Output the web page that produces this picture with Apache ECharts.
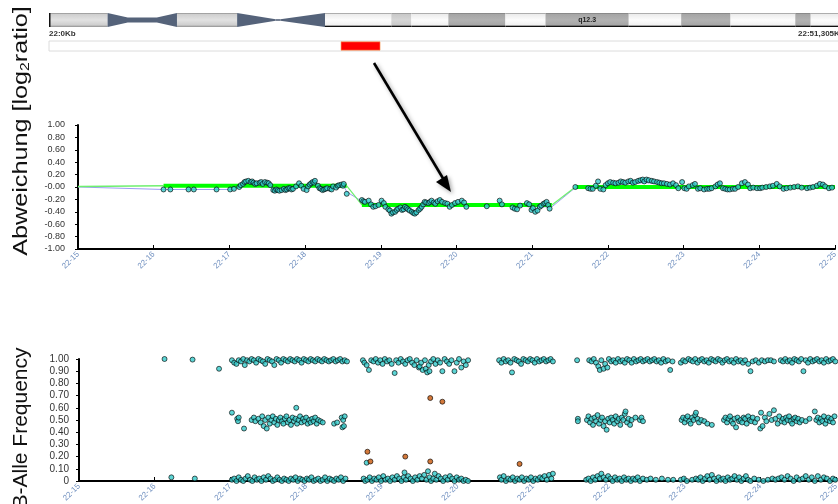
<!DOCTYPE html>
<html><head><meta charset="utf-8">
<script src="https://cdn.jsdelivr.net/npm/echarts@6/dist/echarts.min.js"></script>
<style>html,body{margin:0;padding:0;background:#fff}#c{width:838px;height:504px}</style>
</head><body><div id="c"></div><script>
// ---------- data ----------
const FONT = 'Liberation Sans';
// ideogram bands of chromosome 22: [start Mb, end Mb, name, stain]
const ideoBands = [
  [0,3.8,'p13','gvar'],[3.8,8.3,'p12','stalk'],[8.3,12.2,'p11.2','gvar'],
  [12.2,14.7,'p11.1','acenL'],[14.7,15.0,'','thin'],[15.0,17.9,'q11.1','acenR'],
  [17.9,22.2,'q11.21','gneg'],[22.2,23.5,'q11.22','gpos25'],[23.5,25.9,'q11.23','gneg'],
  [25.9,29.6,'q12.1','gpos50'],[29.6,32.2,'q12.2','gneg'],[32.2,37.6,'q12.3','gpos50'],
  [37.6,41.0,'q13.1','gneg'],[41.0,44.2,'q13.2','gpos50'],[44.2,48.4,'q13.31','gneg'],
  [48.4,49.4,'q13.32','gpos50'],[49.4,51.3,'q13.33','gneg']
];
const ideoLabels = ['q12.3'];
const ideoStartLabel = '22:0Kb';
const ideoEndLabel = '22:51,305Kb';
const highlightRegion = [[18.94, 21.47]];

const xTickLabels = ['22-15','22-16','22-17','22-18','22-19','22-20','22-21','22-22','22-23','22-24','22-25'];
const xTickStart = 15;
const lrTickLabels = ['-1.00','-0.80','-0.60','-0.40','-0.20','-0.00','0.20','0.40','0.60','0.80','1.00'];
const bafTickLabels = ['0','0.10','0.20','0.30','0.40','0.50','0.60','0.70','0.80','0.90','1.00'];
const lrTitle = '{a|Abweichung [log}{s|2}{a|ratio]}';
const bafTitle = 'B-Alle Frequency';

// log2 ratio probes [Mb, log2ratio]
const lrPoints = [
[16.13,-0.04],[16.22,-0.04],[16.46,-0.04],[16.53,-0.04],[16.83,-0.04],[17.01,-0.04],[17.06,-0.03],
[17.13,0.00],[17.15,0.03],[17.18,0.05],[17.20,0.08],[17.22,0.09],[17.25,0.10],[17.28,0.08],[17.30,0.09],[17.32,0.07],[17.34,0.05],[17.36,0.06],[17.40,0.07],[17.42,0.08],[17.44,0.05],[17.47,0.08],[17.50,0.07],[17.52,0.06],[17.54,0.03],[17.58,-0.05],[17.60,-0.06],[17.62,-0.04],[17.64,-0.05],[17.66,-0.06],[17.69,-0.05],[17.72,-0.03],[17.74,-0.05],[17.76,-0.04],[17.78,-0.02],[17.80,-0.02],[17.82,-0.04],[17.84,-0.03],[17.88,0.01],[17.92,0.06],[17.95,0.02],[17.98,-0.03],[18.02,-0.05],[18.04,0.01],[18.06,0.04],[18.08,0.06],[18.10,0.08],[18.12,0.07],[18.13,0.10],[18.17,0.02],[18.19,-0.02],[18.21,-0.03],[18.23,-0.05],[18.25,-0.04],[18.27,-0.03],[18.29,-0.02],[18.33,-0.03],[18.35,-0.04],[18.37,0.01],[18.41,-0.01],[18.43,0.02],[18.45,0.03],[18.48,0.04],[18.50,0.02],[18.51,0.05],[18.55,-0.11],
[18.75,-0.21],[18.77,-0.23],[18.79,-0.24],[18.84,-0.22],[18.87,-0.28],[18.90,-0.32],[18.93,-0.31],[18.97,-0.29],[19.01,-0.22],[19.04,-0.26],[19.06,-0.32],[19.10,-0.36],[19.12,-0.38],[19.14,-0.43],[19.16,-0.41],[19.19,-0.40],[19.21,-0.37],[19.23,-0.35],[19.26,-0.33],[19.28,-0.37],[19.30,-0.36],[19.32,-0.32],[19.34,-0.34],[19.36,-0.36],[19.38,-0.38],[19.41,-0.40],[19.43,-0.42],[19.45,-0.43],[19.47,-0.41],[19.50,-0.37],[19.52,-0.35],[19.54,-0.32],[19.56,-0.28],[19.58,-0.24],[19.60,-0.25],[19.63,-0.26],[19.65,-0.24],[19.67,-0.22],[19.70,-0.25],[19.72,-0.27],[19.75,-0.23],[19.78,-0.21],[19.81,-0.24],[19.85,-0.26],[19.88,-0.27],[19.91,-0.32],[19.94,-0.29],[19.98,-0.26],[20.02,-0.24],[20.07,-0.22],[20.10,-0.25],[20.13,-0.32],[20.40,-0.31],[20.57,-0.22],[20.60,-0.28],[20.74,-0.33],[20.77,-0.35],[20.80,-0.36],[20.84,-0.30],[20.93,-0.26],[20.96,-0.28],[20.99,-0.37],[21.01,-0.34],[21.04,-0.40],[21.07,-0.38],[21.10,-0.32],[21.12,-0.30],[21.15,-0.27],[21.17,-0.26],[21.19,-0.24],[21.21,-0.29],[21.23,-0.35],
[21.57,0.00],[21.74,-0.02],[21.77,-0.03],[21.80,-0.03],[21.84,0.02],[21.87,0.09],[21.90,-0.03],[21.94,-0.04],[21.97,0.03],[22.00,0.06],[22.03,0.08],[22.07,0.07],[22.10,0.06],[22.14,0.07],[22.17,0.09],[22.20,0.08],[22.23,0.07],[22.27,0.09],[22.30,0.10],[22.33,0.07],[22.36,0.08],[22.40,0.10],[22.43,0.11],[22.46,0.12],[22.48,0.09],[22.51,0.12],[22.54,0.11],[22.58,0.10],[22.61,0.09],[22.65,0.08],[22.68,0.07],[22.71,0.06],[22.74,0.06],[22.78,0.05],[22.82,0.04],[22.86,0.06],[22.90,0.03],[22.93,-0.02],[22.98,0.08],[23.01,-0.02],[23.04,-0.03],[23.07,0.01],[23.12,0.03],[23.15,0.05],[23.19,-0.03],[23.22,-0.02],[23.27,-0.04],[23.31,-0.03],[23.34,-0.03],[23.37,-0.02],[23.42,0.01],[23.45,0.04],[23.48,0.06],[23.52,-0.02],[23.55,-0.03],[23.58,-0.04],[23.61,-0.04],[23.65,-0.03],[23.68,-0.03],[23.72,0.00],[23.77,0.06],[23.81,0.08],[23.85,0.04],[23.88,-0.02],[23.92,-0.01],[23.97,-0.02],[24.01,-0.02],[24.04,-0.01],[24.09,0.00],[24.14,0.01],[24.18,0.02],[24.23,0.05],[24.27,0.01],[24.32,-0.03],[24.36,-0.02],[24.41,-0.01],[24.46,0.00],[24.51,0.01],[24.56,-0.01],[24.63,-0.02],[24.67,-0.01],[24.71,0.00],[24.76,0.02],[24.80,0.05],[24.84,0.04],[24.87,0.01],[24.92,-0.02],[24.96,-0.01]
];
// running trend of the probes
const lrTrend = [[15,0.00],[16.13,-0.04],[17.06,-0.04],[17.15,0.02],[17.50,0.04],[17.60,-0.03],[17.85,-0.02],[18.10,0.04],[18.30,-0.01],[18.51,0.02],[18.55,-0.08],[18.75,-0.23],[19.00,-0.28],[19.30,-0.35],[19.60,-0.27],[20.00,-0.27],[20.50,-0.29],[21.00,-0.32],[21.26,-0.32],[21.57,-0.01],[22.00,0.03],[22.50,0.07],[22.90,0.02],[23.50,0.00],[24.00,0.00],[25.00,0.00]];
// segmentation: lead-in and segments [start, end, level]
const lrLead = [[15,0.01],[16.13,0.02]];
const lrSegments = [[16.13,18.55,0.02],[18.75,21.26,-0.29],[21.57,25.0,0.00]];

// B allele frequency [Mb, BAF]
const bafHigh = [
[16.13,1.00],[16.50,0.995],[16.85,0.92],
[17.02,0.99],[17.05,0.97],[17.08,0.96],[17.11,0.99],[17.14,0.98],[17.17,1.00],[17.19,0.95],[17.22,0.99],[17.25,0.98],[17.28,1.00],[17.31,0.99],[17.34,0.97],[17.37,1.00],[17.40,0.99],[17.43,0.98],[17.46,0.96],[17.49,1.00],[17.52,0.99],[17.55,0.98],[17.58,0.95],[17.61,1.00],[17.64,0.99],[17.67,0.97],[17.70,1.00],[17.73,0.99],[17.76,0.98],[17.79,1.00],[17.82,0.99],[17.85,0.98],[17.88,1.00],[17.91,0.99],[17.94,0.97],[17.97,1.00],[18.00,0.99],[18.03,0.98],[18.06,1.00],[18.09,0.99],[18.12,0.98],[18.15,1.00],[18.18,0.99],[18.21,0.98],[18.24,1.00],[18.27,0.99],[18.30,0.98],[18.33,0.99],[18.36,1.00],[18.39,0.98],[18.42,0.99],[18.45,1.00],[18.48,0.98],[18.51,0.99],[18.54,0.98],
[18.75,0.99],[18.77,0.97],[18.80,0.95],[18.83,0.91],[18.86,0.99],[18.89,0.98],[18.92,1.00],[18.95,0.97],[18.98,0.99],[19.01,0.96],[19.04,1.00],[19.07,0.98],[19.10,0.99],[19.13,0.96],[19.17,0.885],[19.19,0.99],[19.22,0.97],[19.25,1.00],[19.28,0.98],[19.31,0.96],[19.34,0.99],[19.37,1.00],[19.40,0.97],[19.43,0.95],[19.46,0.99],[19.49,0.93],[19.50,0.94],[19.52,0.97],[19.54,0.91],[19.57,0.99],[19.58,0.92],[19.60,0.89],[19.62,0.95],[19.63,0.90],[19.65,0.98],[19.68,1.00],[19.71,0.96],[19.74,0.99],[19.77,0.97],[19.80,0.90],[19.83,1.00],[19.86,0.98],[19.89,0.96],[19.92,0.99],[19.96,0.90],[19.99,0.97],[20.02,1.00],[20.05,0.93],[20.08,0.98],[20.11,0.95],[20.14,0.99],
[20.55,0.99],[20.58,0.97],[20.61,1.00],[20.64,0.98],[20.67,0.99],[20.70,0.97],[20.72,0.89],[20.75,1.00],[20.78,0.99],[20.81,0.98],[20.84,0.96],[20.87,1.00],[20.90,0.99],[20.93,0.98],[20.96,1.00],[20.99,0.99],[21.02,0.97],[21.05,1.00],[21.08,0.98],[21.11,0.99],[21.14,1.00],[21.17,0.98],[21.20,0.99],[21.23,1.00],[21.26,0.98],
[21.58,0.99],
[21.74,0.99],[21.77,0.98],[21.80,1.00],[21.83,0.97],[21.86,0.94],[21.88,0.91],[21.90,0.99],[21.93,0.92],[21.95,0.96],[21.98,0.93],[22.00,1.00],[22.03,0.98],[22.06,0.99],[22.09,0.97],[22.12,1.00],[22.15,0.98],[22.18,0.99],[22.21,0.97],[22.24,1.00],[22.27,0.99],[22.30,0.97],[22.33,1.00],[22.36,0.98],[22.39,0.99],[22.42,1.00],[22.45,0.98],[22.48,0.99],[22.51,1.00],[22.54,0.98],[22.57,0.99],[22.60,1.00],[22.63,0.98],[22.66,0.99],[22.69,0.97],[22.72,1.00],[22.75,0.98],[22.78,0.99],[22.81,0.91],[22.84,0.98],
[22.95,0.97],[22.98,0.99],[23.01,0.98],[23.05,1.00],[23.08,0.99],[23.11,0.98],[23.14,1.00],[23.17,0.97],[23.20,0.99],[23.23,1.00],[23.26,0.98],[23.29,0.99],[23.32,0.97],[23.35,1.00],[23.38,0.99],[23.41,0.98],[23.44,1.00],[23.47,0.99],[23.50,0.97],[23.53,0.99],[23.56,1.00],[23.59,0.98],[23.62,0.99],[23.65,0.97],[23.68,1.00],[23.71,0.98],[23.74,0.99],[23.77,0.97],[23.80,0.99],[23.84,0.96],[23.87,0.90],[23.90,0.98],[23.94,0.99],[23.98,0.97],[24.02,0.99],[24.06,0.98],[24.10,0.99],[24.14,0.99],[24.18,0.98],
[24.27,0.99],[24.30,0.98],[24.33,1.00],[24.36,0.98],[24.39,0.99],[24.42,0.97],[24.45,1.00],[24.48,0.99],[24.51,0.98],[24.54,1.00],[24.57,0.90],[24.60,0.99],[24.63,0.97],[24.66,1.00],[24.69,0.98],[24.72,0.99],[24.75,1.00],[24.78,0.98],[24.81,0.99],[24.84,0.97],[24.87,1.00],[24.90,0.98],[24.93,0.99],[24.96,1.00],[24.99,0.98]
];
const bafMid = [
[17.02,0.56],[17.09,0.51],[17.10,0.49],[17.11,0.52],[17.18,0.43],[17.28,0.50],[17.31,0.52],[17.33,0.49],[17.37,0.51],[17.40,0.48],[17.42,0.53],[17.44,0.45],[17.46,0.50],[17.48,0.43],[17.50,0.52],[17.52,0.47],[17.54,0.50],[17.56,0.53],[17.58,0.48],[17.60,0.51],[17.62,0.46],[17.64,0.50],[17.66,0.52],[17.68,0.49],[17.70,0.47],[17.72,0.51],[17.74,0.53],[17.76,0.48],[17.78,0.50],[17.80,0.46],[17.82,0.52],[17.84,0.49],[17.86,0.51],[17.87,0.60],[17.88,0.47],[17.90,0.50],[17.92,0.53],[17.94,0.48],[17.96,0.51],[17.98,0.49],[18.00,0.52],[18.02,0.47],[18.04,0.50],[18.06,0.48],[18.08,0.51],[18.10,0.49],[18.12,0.52],[18.14,0.47],[18.16,0.50],[18.19,0.49],[18.22,0.48],[18.37,0.47],[18.41,0.48],[18.47,0.52],[18.48,0.44],[18.49,0.50],[18.50,0.45],[18.51,0.53],
[21.59,0.51],[21.59,0.49],[21.71,0.50],[21.73,0.53],[21.75,0.48],[21.77,0.51],[21.79,0.46],[21.81,0.52],[21.83,0.49],[21.85,0.54],[21.87,0.47],[21.89,0.50],[21.91,0.52],[21.93,0.45],[21.95,0.49],[21.97,0.42],[21.99,0.51],[22.01,0.48],[22.03,0.52],[22.05,0.50],[22.07,0.47],[22.09,0.53],[22.11,0.49],[22.13,0.51],[22.15,0.46],[22.17,0.52],[22.19,0.50],[22.21,0.55],[22.22,0.57],[22.24,0.48],[22.26,0.51],[22.28,0.46],[22.30,0.50],[22.35,0.52],[22.41,0.50],[22.43,0.52],[22.45,0.49],
[22.96,0.50],[22.98,0.52],[23.00,0.48],[23.02,0.51],[23.04,0.53],[23.06,0.49],[23.08,0.47],[23.10,0.52],[23.12,0.50],[23.14,0.54],[23.15,0.56],[23.17,0.51],[23.19,0.48],[23.22,0.50],[23.26,0.49],[23.30,0.47],[23.36,0.46],[23.52,0.50],[23.54,0.52],[23.56,0.48],[23.58,0.51],[23.60,0.53],[23.62,0.49],[23.64,0.47],[23.66,0.51],[23.68,0.44],[23.70,0.52],[23.72,0.49],[23.74,0.50],[23.76,0.48],[23.78,0.52],[23.80,0.51],[23.82,0.47],[23.84,0.53],[23.86,0.50],[23.88,0.49],[23.90,0.52],[23.93,0.48],[23.96,0.51],[24.00,0.43],[24.01,0.56],[24.03,0.45],[24.06,0.52],[24.08,0.49],[24.12,0.55],[24.15,0.50],[24.18,0.58],[24.20,0.51],[24.23,0.47],[24.25,0.53],[24.28,0.49],[24.30,0.51],[24.32,0.48],[24.34,0.52],[24.36,0.50],[24.38,0.53],[24.40,0.49],[24.42,0.47],[24.44,0.51],[24.46,0.52],[24.48,0.49],[24.50,0.51],[24.52,0.48],[24.55,0.50],[24.60,0.49],[24.65,0.51],[24.72,0.57],[24.74,0.50],[24.76,0.52],[24.78,0.48],[24.80,0.51],[24.82,0.49],[24.84,0.53],[24.86,0.47],[24.88,0.50],[24.90,0.52],[24.92,0.49],[24.94,0.51],[24.96,0.48],[24.98,0.53]
];
const bafLow = [
[16.22,0.03],[16.53,0.02],
[17.02,0.01],[17.05,0.02],[17.08,0.00],[17.11,0.03],[17.14,0.01],[17.17,0.00],[17.20,0.02],[17.23,0.04],[17.26,0.01],[17.29,0.00],[17.32,0.03],[17.35,0.01],[17.38,0.02],[17.41,0.00],[17.44,0.03],[17.47,0.01],[17.50,0.04],[17.53,0.02],[17.56,0.00],[17.59,0.01],[17.62,0.03],[17.65,0.01],[17.68,0.00],[17.71,0.02],[17.74,0.01],[17.77,0.00],[17.80,0.02],[17.83,0.01],[17.86,0.03],[17.89,0.00],[17.92,0.02],[17.95,0.01],[17.98,0.00],[18.01,0.02],[18.04,0.01],[18.07,0.03],[18.10,0.00],[18.13,0.01],[18.16,0.02],[18.19,0.00],[18.22,0.01],[18.25,0.03],[18.28,0.00],[18.31,0.02],[18.34,0.01],[18.37,0.00],[18.40,0.02],[18.43,0.01],[18.46,0.03],[18.49,0.00],[18.52,0.02],
[18.76,0.02],[18.78,0.00],[18.80,0.15],[18.81,0.01],[18.84,0.03],[18.87,0.00],[18.90,0.02],[18.93,0.01],[18.96,0.03],[18.99,0.00],[19.02,0.04],[19.05,0.01],[19.08,0.02],[19.11,0.00],[19.14,0.03],[19.17,0.01],[19.20,0.04],[19.23,0.02],[19.26,0.00],[19.29,0.03],[19.30,0.07],[19.32,0.01],[19.35,0.04],[19.38,0.02],[19.41,0.00],[19.44,0.03],[19.47,0.01],[19.50,0.04],[19.53,0.02],[19.56,0.05],[19.59,0.01],[19.61,0.08],[19.63,0.03],[19.65,0.00],[19.68,0.02],[19.70,0.06],[19.72,0.01],[19.75,0.04],[19.78,0.02],[19.81,0.00],[19.84,0.03],[19.87,0.01],[19.90,0.04],[19.93,0.02],[19.96,0.00],[19.99,0.03],[20.02,0.01],[20.05,0.02],[20.08,0.00],[20.11,0.01],[20.14,0.00],
[20.56,0.03],[20.58,0.01],[20.61,0.04],[20.64,0.00],[20.67,0.02],[20.70,0.01],[20.73,0.03],[20.76,0.00],[20.79,0.02],[20.82,0.01],[20.85,0.03],[20.88,0.00],[20.91,0.02],[20.94,0.01],[20.97,0.03],[21.00,0.00],[21.03,0.02],[21.06,0.01],[21.09,0.03],[21.12,0.02],[21.15,0.04],[21.18,0.01],[21.21,0.05],[21.24,0.02],[21.26,0.06],
[21.70,0.01],[21.73,0.02],[21.76,0.00],[21.79,0.03],[21.82,0.01],[21.85,0.04],[21.88,0.02],[21.90,0.06],[21.93,0.03],[21.96,0.01],[21.99,0.04],[22.02,0.02],[22.05,0.00],[22.08,0.03],[22.11,0.01],[22.14,0.02],[22.17,0.00],[22.20,0.03],[22.23,0.01],[22.26,0.02],[22.29,0.00],[22.32,0.02],[22.35,0.01],[22.38,0.03],[22.41,0.00],[22.45,0.02],[22.50,0.01],[22.55,0.02],[22.62,0.01],[22.70,0.02],[22.78,0.01],[22.85,0.01],
[22.95,0.01],[22.99,0.02],[23.03,0.00],[23.10,0.01],[23.15,0.02],[23.18,0.01],[23.21,0.03],[23.24,0.00],[23.27,0.02],[23.30,0.04],[23.33,0.01],[23.36,0.05],[23.39,0.02],[23.42,0.00],[23.45,0.03],[23.48,0.01],[23.51,0.02],[23.54,0.00],[23.57,0.03],[23.60,0.01],[23.63,0.02],[23.66,0.04],[23.69,0.01],[23.72,0.03],[23.75,0.00],[23.78,0.02],[23.81,0.04],[23.84,0.01],[23.87,0.00],[23.92,0.02],[23.98,0.01],[24.04,0.00],[24.10,0.01],[24.16,0.02],[24.20,0.01],[24.24,0.02],[24.28,0.03],[24.32,0.01],[24.36,0.04],[24.40,0.02],[24.44,0.00],[24.48,0.03],[24.52,0.01],[24.56,0.02],[24.60,0.04],[24.64,0.01],[24.68,0.03],[24.72,0.00],[24.76,0.04],[24.80,0.01],[24.84,0.03],[24.88,0.02],[24.92,0.00],[24.96,0.02],[24.99,0.01]
];
const bafFlagged = [[18.81,0.24],[18.85,0.16],[19.31,0.20],[19.64,0.16],[19.64,0.68],[19.80,0.65],[20.82,0.14]];

// ---------- styles / rendering ----------
const ACEN = '#55637a';
const stainGrad = {
  gvar:   ['#8a8a8a','#cfcfcf','#e2e2e2','#cdcdcd','#a0a0a0'],
  gneg:   ['#8a8a8a','#ececec','#fcfcfc','#f0f0f0','#111111'],
  gpos25: ['#8a8a8a','#c9c9c9','#d6d6d6','#c8c8c8','#111111'],
  gpos50: ['#7a7a7a','#a6a6a6','#b2b2b2','#a6a6a6','#111111']
};
function gradFill(c){
  return new echarts.graphic.LinearGradient(0,0,0,1,[
    {offset:0,color:c[0]},{offset:0.1,color:c[1]},{offset:0.5,color:c[2]},
    {offset:0.88,color:c[3]},{offset:0.92,color:c[4]},{offset:1,color:c[4]}]);
}
function ideoItem(params, api){
  const b = ideoBands[params.dataIndex];
  const a = api.coord([b[0],1]), z = api.coord([b[1],0]);
  const x0=a[0], x1=z[0], t=a[1], bt=z[1], m=(t+bt)/2;
  const ch = [];
  const st = b[3];
  if (st === 'stalk'){
    const w=(x1-x0)*0.29, n=2.6;
    ch.push({type:'polygon',shape:{points:[[x0,t],[x0+w,m-n],[x1-w,m-n],[x1,t],[x1,bt],[x1-w,m+n],[x0+w,m+n],[x0,bt]]},style:{fill:ACEN}});
  } else if (st === 'acenL'){
    ch.push({type:'polygon',shape:{points:[[x0,t],[x1,m-0.8],[x1,m+0.8],[x0,bt]]},style:{fill:ACEN}});
  } else if (st === 'thin'){
    ch.push({type:'rect',shape:{x:x0,y:m-0.8,width:x1-x0,height:1.6},style:{fill:ACEN}});
  } else if (st === 'acenR'){
    ch.push({type:'polygon',shape:{points:[[x0,m-0.8],[x1,t],[x1,bt],[x0,m+0.8]]},style:{fill:ACEN}});
  } else {
    ch.push({type:'rect',shape:{x:x0,y:t,width:x1-x0,height:bt-t},style:{fill:gradFill(stainGrad[st])}});
  }
  if (params.dataIndex === 0){
    ch.push({type:'rect',shape:{x:x0,y:t,width:1.5,height:bt-t},style:{fill:'#111'}});
  }
  if (ideoLabels.indexOf(b[2]) >= 0){
    ch.push({type:'text',style:{text:b[2],x:(x0+x1)/2,y:m,align:'center',verticalAlign:'middle',
      fontSize:7,fontWeight:'bold',fontFamily:FONT,fill:'#222'}});
  }
  return {type:'group',children:ch};
}
function regionItem(params, api){
  const r = highlightRegion[params.dataIndex];
  const a = api.coord([r[0],0.92]), z = api.coord([r[1],0.08]);
  return {type:'rect',shape:{x:a[0],y:a[1],width:z[0]-a[0],height:z[1]-a[1]},
    style:{fill:'#ff0000',stroke:'#f6a25a',lineWidth:0.6}};
}

const grids = [
  {left:49, top:13, width:791, height:14},
  {left:49, top:41, width:791, height:10, show:true, borderColor:'#dcdcdc', borderWidth:1, backgroundColor:'#fff'},
  {left:78, top:125, width:757, height:124},
  {left:79, top:359, width:757, height:122}
].map(g => Object.assign({outerBoundsMode:'none', containLabel:false}, g));

function chartX(gi){
  return {type:'value', gridIndex:gi, min:15, max:25, interval:1,
    axisLine:{show:true, onZero:false, lineStyle:{color:'#000', width:2}},
    axisTick:{show:true, inside:true, length:4, lineStyle:{color:'#000', width:1}},
    splitLine:{show:false},
    axisLabel:{rotate:45, margin:4, fontSize:8, fontFamily:FONT, color:'#6f8fbf',
      showMinLabel:true, showMaxLabel:true, hideOverlap:false,
      formatter: v => xTickLabels[Math.round(v - xTickStart)]}};
}
function chartY(gi, min, max, step, labels, fs, margin){
  return {type:'value', gridIndex:gi, min:min, max:max, interval:step,
    axisLine:{show:true, onZero:false, lineStyle:{color:'#000', width:2}},
    axisTick:{show:true, inside:false, length:3, lineStyle:{color:'#000'}},
    splitLine:{show:false},
    axisLabel:{margin:margin, fontSize:fs, fontFamily:FONT, color:'#333', showMinLabel:true, showMaxLabel:true,
      formatter: v => labels[Math.round((v - min) / step)]}};
}
function hiddenAxis(gi, min, max){ return {type:'value', gridIndex:gi, min:min, max:max, show:false}; }

const series = [
  {type:'custom', xAxisIndex:0, yAxisIndex:0, renderItem:ideoItem, silent:true, clip:false,
    encode:{x:[0,1]}, data: ideoBands.map(b => [b[0], b[1]])},
  {type:'custom', xAxisIndex:1, yAxisIndex:1, renderItem:regionItem, silent:true,
    encode:{x:[0,1]}, data: highlightRegion},
  {type:'line', xAxisIndex:2, yAxisIndex:2, data:lrTrend, symbol:'none', z:2, silent:true,
    lineStyle:{color:'#9d9df2', width:1}},
  {type:'line', xAxisIndex:2, yAxisIndex:2, data:lrLead, symbol:'none', z:3, silent:true,
    lineStyle:{color:'#6ef06e', width:1.5}}
];
lrSegments.forEach((s, i) => {
  series.push({type:'line', xAxisIndex:2, yAxisIndex:2, data:[[s[0],s[2]],[s[1],s[2]]], symbol:'none', z:3, silent:true,
    lineStyle:{color:'#00ff00', width:4}});
  if (i < lrSegments.length - 1){
    const n = lrSegments[i+1];
    series.push({type:'line', xAxisIndex:2, yAxisIndex:2, data:[[s[1],s[2]],[n[0],n[2]]], symbol:'none', z:3, silent:true,
      lineStyle:{color:'#6ef06e', width:1.2}});
  }
});
const ptStyle = {color:'#33c9c9', borderColor:'#000', borderWidth:0.8};
series.push({type:'scatter', xAxisIndex:2, yAxisIndex:2, data:lrPoints, symbolSize:5, z:4, silent:true, itemStyle:ptStyle});
series.push({type:'scatter', xAxisIndex:3, yAxisIndex:3, data:bafHigh.concat(bafMid, bafLow), symbolSize:5, z:4, silent:true, itemStyle:ptStyle});
series.push({type:'scatter', xAxisIndex:3, yAxisIndex:3, data:bafFlagged, symbolSize:5, z:5, silent:true,
  itemStyle:{color:'#c8580a', borderColor:'#000', borderWidth:0.8}});

const shadow = {shadowBlur:4, shadowColor:'rgba(0,0,0,0.35)', shadowOffsetX:2, shadowOffsetY:2};
const option = {
  animation:false,
  backgroundColor:'#fff',
  grid: grids,
  xAxis: [hiddenAxis(0,0,51.3), hiddenAxis(1,0,51.3), chartX(2), chartX(3)],
  yAxis: [hiddenAxis(0,0,1), hiddenAxis(1,0,1),
          chartY(2,-1,1,0.2,lrTickLabels,9,13), chartY(3,0,1,0.1,bafTickLabels,10,10)],
  series: series,
  graphic: [
    {type:'text', x:49, y:30, style:{text:ideoStartLabel, fontSize:8, fontWeight:'bold', fontFamily:FONT, fill:'#333'}},
    {type:'text', x:798, y:30, style:{text:ideoEndLabel, fontSize:8, fontWeight:'bold', fontFamily:FONT, fill:'#333'}},
    {type:'line', shape:{x1:374, y1:63, x2:444, y2:180}, style:Object.assign({stroke:'#000', lineWidth:2.6}, shadow)},
    {type:'polygon', shape:{points:[[451,192],[436,182],[447,175]]}, style:Object.assign({fill:'#000'}, shadow)},
    {type:'text', x:21, y:131, rotation:Math.PI/2, scaleX:1.2,
      style:{text:lrTitle, align:'center', verticalAlign:'middle', fill:'#111',
        rich:{a:{fontSize:21, fontFamily:FONT, fill:'#111'}, s:{fontSize:13, fontFamily:FONT, fill:'#111', padding:[8,0,0,0]}}}},
    {type:'text', x:21, y:428, rotation:Math.PI/2,
      style:{text:bafTitle, align:'center', verticalAlign:'middle', fontSize:21, fontFamily:FONT, fill:'#111'}}
  ]
};
const chart = echarts.init(document.getElementById('c'), null, {renderer:'canvas'});
chart.setOption(option);
</script></body></html>
